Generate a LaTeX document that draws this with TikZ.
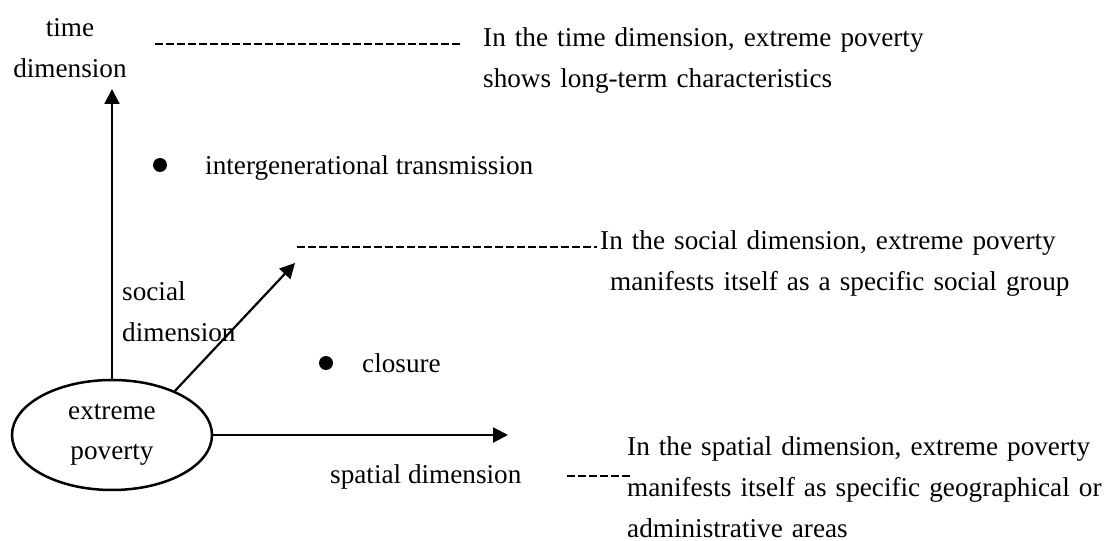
\documentclass[tikz,border=0pt]{standalone}
\usepackage{fontspec}
\setmainfont{Liberation Serif}
\usetikzlibrary{arrows.meta,shapes.geometric}

\tikzset{
  txt/.style={inner sep=0pt, font=\fontsize{27.2bp}{41bp}\selectfont},
  para/.style={txt, anchor=base west, text width=#1, align=left},
  axis/.style={line width=2.2bp, -{Triangle[length=15bp,width=15bp]}},
  leader/.style={line width=2bp, dash pattern=on 7.5bp off 3.5bp},
  dot/.style={circle, fill=black, inner sep=0pt, minimum size=14bp},
  core/.style={ellipse, draw, line width=2.5bp, minimum width=200bp,
    minimum height=110bp, inner sep=0pt, align=center,
    font=\fontsize{27.2bp}{40bp}\selectfont}
}

\begin{document}
\begin{tikzpicture}[x=1bp, y=-1bp]
  \useasboundingbox (0,0) rectangle (1107,541);

  % centre of the diagram
  \node[core] (ell) at (112,435) {extreme\\poverty};

  % three dimension axes
  \coordinate (ttip) at (112,89);
  \coordinate (stip) at (295,263);
  \coordinate (ptip) at (508,435);
  \draw[axis] (ell.north) -- (ttip);
  \draw[axis] (ell.35) -- (stip);
  \draw[axis] (ell.east) -- (ptip);

  % axis labels
  \node[para=140bp, align=center, anchor=base] (tlab) at (70,37) {time\\dimension};
  \node[para=140bp] (slab) at (122,301) {social\\dimension};
  \node[txt, anchor=base west] (plab) at (330,483) {spatial dimension};

  % bullet points
  \node[dot] (b1) at (160,165) {};
  \node[txt, anchor=base west] (b1t) at (205,175) {intergenerational transmission};
  \node[dot] (b2) at (326,363) {};
  \node[txt, anchor=base west] (b2t) at (362,373) {closure};

  % descriptions
  \node[para=460bp] (tdesc) at (483,47)
    {In the time dimension, extreme poverty\\shows long-term characteristics};
  \node[para=503bp] (sdesc) at (600,250)
    {\makebox[503bp][s]{In the social dimension, extreme poverty}\\
     \hspace*{10bp}manifests itself as a specific social group};
  \node[para=476bp] (pdesc) at (627,455)
    {\makebox[476bp][s]{In the spatial dimension, extreme poverty}\\
     \makebox[476bp][s]{manifests itself as specific geographical or}\\
     administrative areas};

  % dashed leaders
  \coordinate (t0) at (155,44);  \coordinate (t1) at (462,44);
  \coordinate (s0) at (297,247); \coordinate (s1) at (597,247);
  \coordinate (p0) at (567,476); \coordinate (p1) at (633,476);
  \draw[leader] (t0) -- (t1);
  \draw[leader] (s0) -- (s1);
  \draw[leader] (p0) -- (p1);
\end{tikzpicture}
\end{document}
